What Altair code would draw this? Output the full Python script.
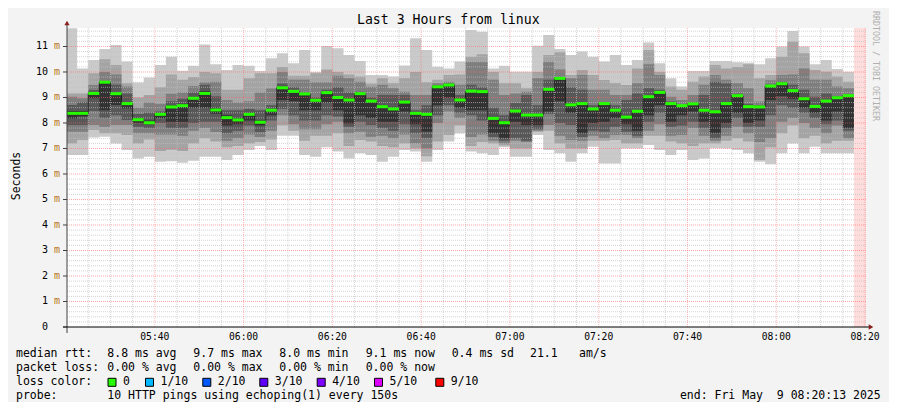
import altair as alt
import pandas as pd

FONT = "DejaVu Sans Mono"

# time axis: minutes after 05:00
t_start = 20 + 13 / 60.0   # 05:20:13
t_end = 200 + 13 / 60.0    # 08:20:13
first_step = 20.0          # first RRD step starts 05:20:00
step = 2.5                 # 150 s

# ten sorted pings per step (ms): max .. min, plus median
ping_max = [11.72,10.14,10.47,10.90,11.06,10.41,9.59,9.78,10.27,10.60,
            10.05,10.24,11.08,10.30,10.08,10.27,10.24,10.04,10.54,10.73,
            10.34,10.86,10.00,11.02,10.93,10.67,10.43,9.88,9.88,9.82,
            10.25,11.32,10.86,10.21,10.14,10.41,11.65,11.58,10.14,10.24,
            10.01,10.01,11.03,11.45,10.90,10.67,10.80,10.60,10.41,10.67,
            10.27,10.47,11.16,10.34,9.75,9.43,10.04,10.04,10.43,10.43,
            10.38,10.36,10.30,10.54,11.00,11.61,11.00,10.30,10.47,10.12,
            10.01]
ping9 = [9.16,9.16,9.95,10.50,10.27,9.56,9.00,9.10,9.40,9.90,
         9.70,9.80,10.00,9.95,9.30,9.30,9.75,9.95,9.95,10.20,
         9.85,9.85,9.95,10.10,10.00,9.90,9.82,9.55,9.75,9.56,
         9.75,10.00,9.60,9.70,9.88,9.90,10.60,10.70,10.00,9.56,
         9.56,9.36,10.00,10.67,10.77,9.88,10.08,9.88,9.69,9.56,
         9.49,10.14,10.86,10.00,9.43,9.30,9.62,9.82,10.27,10.14,
         10.20,10.30,9.75,9.88,10.60,11.20,10.73,10.08,10.01,9.82,
         9.62]
ping8 = [9.03,8.97,9.49,10.00,9.90,9.43,8.60,8.80,8.75,9.15,
         9.20,9.45,9.60,9.62,8.90,8.80,8.85,9.20,9.35,10.00,
         9.70,9.70,9.60,9.60,9.85,9.75,9.62,9.42,9.50,9.36,
         9.23,9.10,9.10,9.56,9.62,9.50,10.40,10.40,9.70,9.10,
         9.16,9.23,9.75,10.40,10.10,9.75,9.88,9.30,9.30,9.10,
         9.10,9.56,10.30,9.88,9.03,8.90,9.10,9.50,9.88,9.70,
         9.56,9.36,8.84,9.68,9.88,9.90,10.14,9.70,9.70,9.43,
         9.36]
ping7 = [8.71,8.81,9.29,9.65,9.50,9.16,8.35,8.40,8.45,8.85,
         8.95,9.20,9.50,9.05,8.50,8.50,8.55,8.50,8.70,9.55,
         9.40,9.20,9.00,9.30,9.40,9.20,9.23,9.00,9.10,9.10,
         9.10,8.50,8.70,9.48,9.55,9.10,9.50,9.40,8.60,8.30,
         8.78,9.10,8.70,9.70,9.80,9.40,9.30,8.70,8.80,8.70,
         8.90,9.16,9.36,9.30,8.84,8.72,8.80,9.10,9.62,9.55,
         9.15,8.75,8.70,9.50,9.62,9.50,9.30,9.03,9.16,9.05,
         9.10]
ping6 = [8.47,8.47,9.22,9.62,9.20,8.80,8.20,8.10,8.38,8.70,
         8.75,9.00,9.25,8.60,8.30,8.20,8.40,8.10,8.55,9.42,
         9.27,9.17,8.92,9.22,9.05,8.95,9.18,8.90,8.70,8.60,
         8.85,8.42,8.38,9.44,9.52,8.93,9.28,9.26,8.22,8.05,
         8.50,8.35,8.35,9.35,9.78,8.75,8.80,8.58,8.78,8.53,
         8.26,8.49,9.06,9.23,8.80,8.71,8.78,8.53,8.47,8.80,
         9.10,8.67,8.66,9.47,9.57,9.30,8.98,8.68,8.89,9.02,
         9.10]
median = [8.38,8.38,9.16,9.60,9.15,8.76,8.13,8.01,8.34,8.63,
          8.68,8.97,9.16,8.51,8.21,8.12,8.34,8.03,8.50,9.38,
          9.24,9.14,8.89,9.19,9.00,8.90,9.15,8.86,8.64,8.55,
          8.82,8.38,8.34,9.42,9.49,8.90,9.25,9.23,8.18,8.01,
          8.47,8.31,8.31,9.32,9.75,8.71,8.76,8.55,8.76,8.50,
          8.23,8.46,9.03,9.20,8.76,8.68,8.75,8.50,8.44,8.76,
          9.07,8.64,8.63,9.45,9.54,9.27,8.95,8.65,8.86,8.99,
          9.07]
ping5 = [8.18,8.25,8.97,8.50,8.71,8.57,8.00,7.95,8.20,8.05,
         8.05,8.60,8.60,8.35,7.90,7.95,8.10,7.90,8.30,8.90,
         8.85,8.50,8.50,8.80,8.50,7.98,8.30,8.20,8.05,8.05,
         8.45,7.95,7.66,8.70,9.00,8.60,8.50,8.50,7.60,7.40,
         8.05,7.92,7.92,8.45,8.85,8.40,7.60,8.00,8.05,8.20,
         7.95,7.70,8.30,8.70,8.05,8.30,8.45,8.05,7.60,8.00,
         8.40,8.00,8.10,8.90,9.05,8.95,8.60,8.40,8.10,8.45,
         7.80]
ping4 = [7.92,7.92,8.47,8.20,8.30,8.12,7.85,7.80,8.00,7.80,
         7.80,8.00,8.05,8.05,7.60,7.70,7.90,7.65,8.10,8.55,
         8.30,8.10,8.10,8.30,8.25,7.85,8.05,7.92,7.80,7.70,
         7.95,7.60,7.40,8.30,8.70,8.40,8.30,8.10,7.45,7.30,
         7.40,7.30,7.75,8.35,8.00,7.92,7.45,7.70,7.66,7.85,
         7.66,7.50,8.05,8.40,7.85,7.90,8.05,7.80,7.40,7.80,
         8.20,7.85,7.85,8.30,8.70,8.60,8.40,8.20,7.95,8.10,
         7.70]
ping3 = [7.66,7.66,7.92,7.85,7.92,7.92,7.60,7.60,7.55,7.55,
         7.50,7.70,7.80,7.65,7.30,7.40,7.55,7.45,7.70,8.30,
         7.95,7.75,7.75,7.95,8.05,7.60,7.66,7.46,7.50,7.40,
         7.55,7.20,7.00,8.00,8.45,8.20,7.45,7.55,7.30,7.20,
         7.30,7.25,7.70,7.92,7.50,7.33,7.30,7.50,7.40,7.53,
         7.53,7.40,7.70,7.95,7.50,7.53,7.80,7.50,7.30,7.50,
         7.85,7.60,7.25,7.40,8.05,8.20,8.00,7.80,7.60,7.90,
         7.40]
ping2 = [7.20,7.33,7.73,7.60,7.60,7.53,7.20,7.35,6.90,6.95,
         6.90,7.20,7.40,7.27,7.05,7.10,7.20,7.25,7.35,7.90,
         7.70,7.30,7.50,7.50,7.60,7.10,7.33,7.27,7.10,7.05,
         7.20,7.00,6.70,7.27,7.53,7.90,7.10,7.25,7.20,7.12,
         7.00,7.00,7.66,7.70,7.20,7.00,7.00,7.30,7.30,7.33,
         7.20,7.20,7.50,7.50,7.27,7.20,7.10,7.20,7.20,7.30,
         7.40,7.27,6.55,7.05,7.60,7.90,7.40,7.50,7.20,7.30,
         7.30]
ping_min = [6.74,6.74,7.43,7.46,7.20,6.94,6.61,6.68,6.48,6.50,
            6.44,6.52,6.68,6.68,6.55,6.74,6.94,7.10,6.94,7.50,
            7.50,6.74,6.68,7.05,6.88,6.61,6.81,6.74,6.48,6.68,
            6.94,6.88,6.48,6.94,7.27,7.60,6.88,6.81,6.74,7.05,
            6.68,6.68,7.53,6.94,6.81,6.48,6.81,7.07,6.41,6.41,
            7.00,7.00,7.14,6.94,6.74,6.94,6.55,6.61,7.01,7.00,
            6.94,6.81,6.48,6.38,6.81,7.20,6.81,7.07,6.81,6.81,
            6.81]

smoke_colors = ["#cacaca", "#a4a4a4", "#7e7e7e", "#585858", "#323232"]
low_series = [ping_min, ping2, ping3, ping4, ping5]
high_series = [ping_max, ping9, ping8, ping7, ping6]

xtick_values = [40, 60, 80, 100, 120, 140, 160, 180, 200]
xtick_labels = ["05:40", "06:00", "06:20", "06:40", "07:00", "07:20", "07:40", "08:00", "08:20"]
ytick_values = list(range(0, 12))
ytick_labels = ["0"] + [str(v) for v in range(1, 12)]

minor_t = [t for t in range(25, 201, 5) if t % 20]
major_t = xtick_values
minor_v = [round(i * 0.2, 1) for i in range(1, 59) if i % 5]
major_v = list(range(1, 12))

W, H = 799, 299
xs = alt.Scale(domain=[t_start, t_end], nice=False, zero=False)
ys = alt.Scale(domain=[0, 11.725], nice=False, zero=True)

n = len(median)
times = [first_step + k * step for k in range(n)] + [first_step + n * step]

def ext(a):
    return list(a) + [a[-1]]

layers = []

# unknown (pink) region after last step
unk = pd.DataFrame({"t0": [first_step + n * step], "t1": [t_end]})
layers.append(alt.Chart(unk).mark_rect(color="#ffdddd", clip=True).encode(
    x=alt.X("t0:Q", scale=xs, axis=None), x2="t1:Q",
    y=alt.value(0), y2=alt.value(H)))

# smoke bands
for col, lo, hi in zip(smoke_colors, low_series, high_series):
    df = pd.DataFrame({"t": times, "lo": ext(lo), "hi": ext(hi)})
    layers.append(alt.Chart(df).mark_area(color=col, interpolate="step-after", clip=True).encode(
        x=alt.X("t:Q", scale=xs, axis=None),
        y=alt.Y("lo:Q", scale=ys, axis=None), y2="hi:Q"))

# grid (drawn on top of smoke, like rrdtool)
def vgrid(vals, color, op):
    return alt.Chart(pd.DataFrame({"t": vals})).mark_rule(
        color=color, opacity=op, strokeDash=[1, 1], strokeWidth=1).encode(
        x=alt.X("t:Q", scale=xs, axis=None), y=alt.value(0), y2=alt.value(H))

def hgrid(vals, color, op):
    return alt.Chart(pd.DataFrame({"v": vals})).mark_rule(
        color=color, opacity=op, strokeDash=[1, 1], strokeWidth=1).encode(
        y=alt.Y("v:Q", scale=ys, axis=None), x=alt.value(0), x2=alt.value(W))

layers += [vgrid(minor_t, "#c0c0c0", 0.7), hgrid(minor_v, "#c0c0c0", 0.7),
           vgrid(major_t, "#ff6060", 0.45), hgrid(major_v, "#ff6060", 0.55)]

# median: black step line + green bars
med_df = pd.DataFrame({"t": times, "m": ext(median)})
layers.append(alt.Chart(med_df).mark_line(color="#202020", strokeWidth=1, interpolate="step-after", clip=True).encode(
    x=alt.X("t:Q", scale=xs, axis=None), y=alt.Y("m:Q", scale=ys, axis=None)))
green_df = pd.DataFrame({"t0": times[:-1], "t1": times[1:], "m": median})
layers.append(alt.Chart(green_df).mark_rule(color="#26ff00", strokeWidth=3, clip=True).encode(
    x=alt.X("t0:Q", scale=xs, axis=None), x2="t1:Q", y=alt.Y("m:Q", scale=ys, axis=None)))

# axes lines
one = pd.DataFrame({"a": [0]})
layers.append(alt.Chart(one).mark_rule(color="#404040", strokeWidth=1).encode(
    x=alt.value(0), y=alt.value(-6), y2=alt.value(H + 6)))
layers.append(alt.Chart(one).mark_rule(color="#000000", strokeWidth=1).encode(
    x=alt.value(-4), x2=alt.value(W + 5), y=alt.value(H)))
layers.append(alt.Chart(one).mark_point(shape="triangle-up", filled=True, size=28, color="#8b2020", opacity=1).encode(
    x=alt.value(0), y=alt.value(-5)))
layers.append(alt.Chart(one).mark_point(shape="triangle-right", filled=True, size=28, color="#8b2020", opacity=1).encode(
    x=alt.value(W + 5), y=alt.value(H)))

# y ticks and labels
ytk = pd.DataFrame({"v": ytick_values, "lab": ytick_labels})
layers.append(alt.Chart(ytk).mark_rule(color="#404040").encode(
    y=alt.Y("v:Q", scale=ys, axis=None), x=alt.value(-4), x2=alt.value(0)))
layers.append(alt.Chart(ytk).mark_text(align="right", baseline="middle", font=FONT, fontSize=10, color="#000000").encode(
    y=alt.Y("v:Q", scale=ys, axis=None), x=alt.value(-19), text="lab:N"))
ym = pd.DataFrame({"v": ytick_values[1:], "u": ["m"] * (len(ytick_values) - 1)})
layers.append(alt.Chart(ym).mark_text(align="left", baseline="middle", font=FONT, fontSize=10, color="#b8741a").encode(
    y=alt.Y("v:Q", scale=ys, axis=None), x=alt.value(-13), text="u:N"))

# x labels
xtk = pd.DataFrame({"t": xtick_values, "lab": xtick_labels})
layers.append(alt.Chart(xtk).mark_text(align="center", baseline="top", font=FONT, fontSize=9.7, color="#000000").encode(
    x=alt.X("t:Q", scale=xs, axis=None), y=alt.value(H + 5), text="lab:N"))

def label(text, x, y, size=11.5, align="left", color="#000000", angle=0):
    return alt.Chart(pd.DataFrame({"s": [text.replace(" ", "\u00a0")]})).mark_text(
        align=align, baseline="middle", font=FONT, fontSize=size, color=color, angle=angle).encode(
        x=alt.value(x), y=alt.value(y), text="s:N")

layers.append(label("Last 3 Hours from linux", 381.3, -8.5, size=13.2, align="center"))
layers.append(label("Seconds", -50, 148, size=11.5, align="center", angle=270))
layers.append(label("RRDTOOL / TOBI OETIKER", 808, 38, size=8.3, align="center", color="#b0b0b0", angle=90))

r1, r2, r3, r4 = 326.3, 340.3, 354.3, 368.3
legend_rows = [
    ("median rtt:", -51, r1), ("8.8 ms avg", 40.3, r1), ("9.7 ms max", 126.3, r1),
    ("8.0 ms min", 212.3, r1), ("9.1 ms now", 298.7, r1), ("0.4 ms sd", 384.7, r1),
    ("21.1", 463, r1), ("am/s", 512, r1),
    ("packet loss:", -51, r2), ("0.00 % avg", 40.3, r2), ("0.00 % max", 126.3, r2),
    ("0.00 % min", 212.3, r2), ("0.00 % now", 298.7, r2),
    ("loss color:", -51, r3),
    ("probe:", -51, r4), ("10 HTTP pings using echoping(1) every 150s", 40.3, r4),
]
for s, x, y in legend_rows:
    layers.append(label(s, x, y))
layers.append(label("end: Fri May  9 08:20:13 2025", 813.7, r4, align="right"))

loss_labels = ["0", "1/10", "2/10", "3/10", "4/10", "5/10", "9/10"]
loss_colors = ["#26ff00", "#00b8ff", "#0059ff", "#5e00ff", "#7e00ff", "#dd00ff", "#ff0000"]
box_x = [45, 82.5, 139.8, 196.8, 254.2, 311.5, 372.8]
for lab, c, bx in zip(loss_labels, loss_colors, box_x):
    layers.append(alt.Chart(one).mark_square(size=64, filled=True, fill=c, stroke="#000000", strokeWidth=1, opacity=1).encode(
        x=alt.value(bx), y=alt.value(r3)))
    layers.append(label(lab, bx + 11, r3))

chart = alt.layer(*layers).properties(
    width=W, height=H,
    padding={"left": 59, "top": 20, "right": 23, "bottom": 75},
    autosize=alt.AutoSizeParams(type="none"),
    background="#f3f3f3",
).configure_view(stroke=None, fill="#ffffff")

chart.save("out.html", embed_options={"renderer": "svg", "actions": False})
